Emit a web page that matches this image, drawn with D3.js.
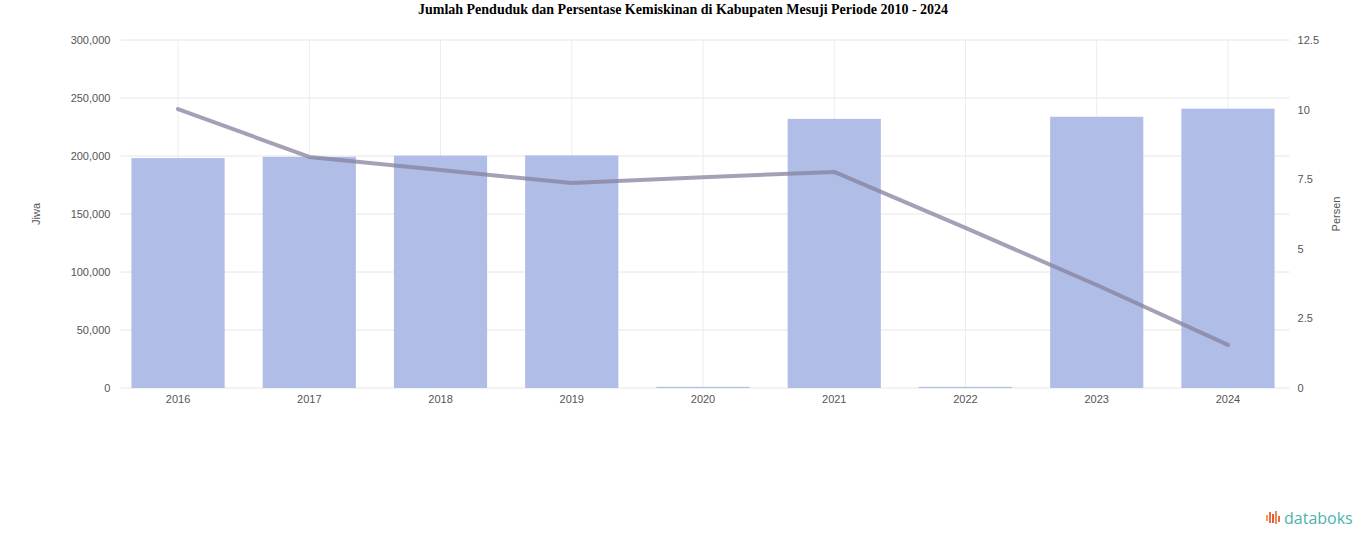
<!DOCTYPE html>
<html><head><meta charset="utf-8">
<script src="https://cdn.jsdelivr.net/npm/d3@7/dist/d3.min.js"></script>
<style>
body{margin:0;background:#fff;}
svg text{font-family:"Liberation Sans",Arial,sans-serif;}
</style></head>
<body><svg id="c" width="1366" height="547"></svg>
<script>
const years = ["2016","2017","2018","2019","2020","2021","2022","2023","2024"];
const population = [198200, 199300, 200300, 200500, 1000, 232000, 1000, 233800, 240800];
const poverty = [10.02, 8.3, 7.83, 7.36, 7.57, 7.76, 5.75, 3.7, 1.55];
const leftTicks = [0, 50000, 100000, 150000, 200000, 250000, 300000];
const rightTicks = [0, 2.5, 5, 7.5, 10, 12.5];
const title = "Jumlah Penduduk dan Persentase Kemiskinan di Kabupaten Mesuji Periode 2010 - 2024";

(function () {
const svg = d3.select("#c");
const pTop = 40, pBottom = 388, pLeft = 112.4, pRight = 1293.6;

const x = d3.scaleBand().domain(years).range([pLeft, pRight]).paddingInner(0.29).paddingOuter(0.145);
const xc = d => x(d) + x.bandwidth() / 2;
const yL = d3.scaleLinear().domain([0, 300000]).range([pBottom, pTop]);
const yR = d3.scaleLinear().domain([0, 12.5]).range([pBottom, pTop]);

svg.append("text").attr("x", 683).attr("y", 14).attr("text-anchor", "middle")
  .style("font-family", "'Liberation Serif','Times New Roman',serif")
  .style("font-weight", "bold").style("font-size", "14px").text(title);

svg.append("g").selectAll("line").data(leftTicks).join("line")
  .attr("x1", pLeft + 8).attr("x2", pRight - 4)
  .attr("y1", d => yL(d)).attr("y2", d => yL(d))
  .attr("stroke", "#e6e6e6").attr("stroke-width", 1);
svg.append("g").selectAll("line").data(years).join("line")
  .attr("x1", d => xc(d)).attr("x2", d => xc(d))
  .attr("y1", pTop).attr("y2", pBottom)
  .attr("stroke", "#ececec").attr("stroke-width", 1);

const gL = svg.append("g").attr("transform", `translate(${pLeft - 2},0)`)
  .call(d3.axisLeft(yL).tickValues(leftTicks).tickFormat(d3.format(",")).tickSize(0).tickPadding(0));
gL.select(".domain").remove();
gL.selectAll("text").attr("fill", "#555").style("font-size", "11px");

const gR = svg.append("g").attr("transform", `translate(${pRight + 4},0)`)
  .call(d3.axisRight(yR).tickValues(rightTicks).tickFormat(d => String(d)).tickSize(0).tickPadding(0));
gR.select(".domain").remove();
gR.selectAll("text").attr("fill", "#555").style("font-size", "11px");

const gX = svg.append("g").attr("transform", `translate(0,${pBottom + 4})`)
  .call(d3.axisBottom(x).tickSize(0).tickPadding(3));
gX.select(".domain").remove();
gX.selectAll("text").attr("fill", "#555").style("font-size", "11px");

svg.append("text").attr("transform", `translate(40,214) rotate(-90)`).attr("text-anchor", "middle")
  .attr("fill", "#555").style("font-size", "11px").text("Jiwa");
svg.append("text").attr("transform", `translate(1340,214) rotate(-90)`).attr("text-anchor", "middle")
  .attr("fill", "#555").style("font-size", "11px").text("Persen");

svg.append("g").selectAll("rect").data(years).join("rect")
  .attr("x", d => x(d)).attr("width", x.bandwidth())
  .attr("y", (d, i) => yL(population[i]))
  .attr("height", (d, i) => yL(0) - yL(population[i]))
  .attr("fill", "#b0bde6");

const line = d3.line().x((d, i) => xc(years[i])).y(d => yR(d));
svg.append("path").datum(poverty).attr("d", line)
  .attr("fill", "none").attr("stroke", "#86829e").attr("stroke-opacity", 0.75)
  .attr("stroke-width", 4).attr("stroke-linejoin", "round").attr("stroke-linecap", "round");

const logo = svg.append("g").attr("transform", "translate(1266,511)");
const bars = [[0, 4, 6, "#f0a04b"], [3, 1, 11, "#ee6a4a"], [6, 3, 9, "#e8584a"], [9, 0, 13, "#f08a4b"], [12, 5, 6, "#ee6a4a"]];
logo.selectAll("rect").data(bars).join("rect")
  .attr("x", d => d[0]).attr("y", d => d[1]).attr("width", 2).attr("height", d => d[2]).attr("fill", d => d[3]);
logo.append("text").attr("x", 18).attr("y", 13).attr("fill", "#4db3ad")
  .style("font-family", "'Open Sans','Noto Sans',sans-serif").style("font-size", "16px").style("font-weight", "500").text("databoks");
})();
</script></body></html>
